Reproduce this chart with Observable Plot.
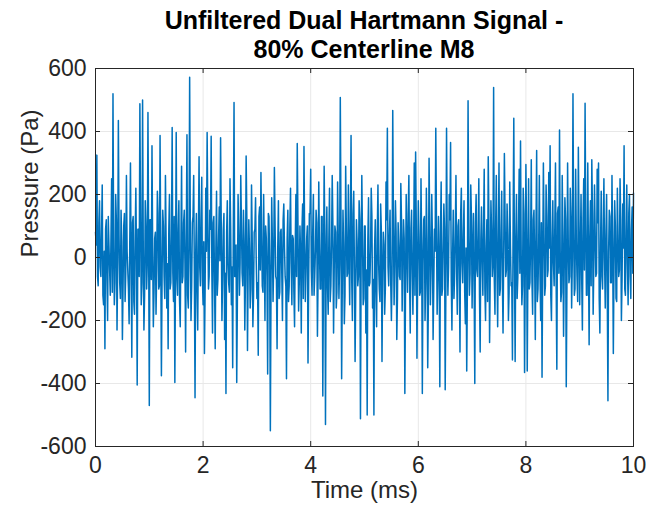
<!DOCTYPE html>
<html>
<head>
<meta charset="utf-8">
<script src="https://cdn.jsdelivr.net/npm/d3@7"></script>
<script src="https://cdn.jsdelivr.net/npm/@observablehq/plot@0.6"></script>
<style>
  body { margin: 0; background: #fff; font-family: "Liberation Sans", Arial, Helvetica, sans-serif; position: relative; }
  #title { position: absolute; left: 0; top: 0; width: 646px; box-sizing: border-box; padding: 6px 13px 0 95px;
           text-align: center; font-weight: bold; font-size: 25px; line-height: 29px; color: #000; z-index: 2; }
  #chart svg { overflow: visible; display: block; }
</style>
</head>
<body>
<div id="chart"></div>
<div id="title">Unfiltered Dual Hartmann Signal -<br>80% Centerline M8</div>
<script>
const titleText = "Unfiltered Dual Hartmann Signal - 80% Centerline M8";
const xLabel = "Time (ms)";
const yLabel = "Pressure (Pa)";
const xTicks = [0, 2, 4, 6, 8, 10];
const yTicks = [-600, -400, -200, 0, 200, 400, 600];
const tStart = 0;
const tStep = 0.025; // ms between main samples

// Main pressure samples (Pa) incl. spikes
const pressure = [
  80, 325, -90, 180, -60, 230, -150, -290, 120, -200, 40, -120, 250, 520, -150, 200, -230, 435, -80, 150,
  -260, 100, -140, 260, -40, -210, 300, -317, 130, -180, 220, -405, 90, 488, -150, 500, -230, 180, -100, 460,
  -470, 120, 355, -220, 60, -180, 210, -100, 387, -375, 150, -60, 260, -160, -290, 200, -80, 413, -140, -397,
  397, -120, 180, -220, 290, -60, 150, -300, 390, -160, 572, -200, 110, 260, -445, 140, -230, 320, -90, 255,
  -150, -305, 220, 397, -100, 150, 385, -240, 130, -290, 210, -70, 160, 380, -200, 90, -260, -432, 180, -80,
  250, -150, -350, 492, -60, -397, 200, -120, 260, -50, 150, -230, 322, -295, 120, -160, 230, -220, 80, 190,
  -130, -310, 160, 270, -90, 200, -200, 60, -370, 130, -550, 190, -140, 286, -60, -290, 180, -110, 90, -200,
  170, -60, -385, 150, -90, 220, -150, 60, -220, 200, 362, -170, 100, -240, 170, 352, -140, 60, -335, 140,
  280, -120, 200, -60, 150, -250, 240, -100, 130, -440, 290, -530, 160, -180, 220, -90, 260, -240, 100, -160,
  240, -130, 508, -385, 150, -210, 290, -60, 230, -150, 387, -200, 210, -330, 120, -90, 180, -512, 260, -150,
  100, -240, -500, 190, -80, 220, -160, -500, 120, -220, 230, -100, 170, -330, 80, -180, 240, 410, -90, 150,
  -200, 467, -150, 180, -260, 110, -60, 235, -170, 120, -432, 200, -110, 260, -240, 150, -180, 300, 335, -320,
  180, -120, 250, -432, 120, -200, 220, -350, 315, -150, 200, -260, 90, 410, -180, 130, -410, 240, -100, 170,
  -420, 410, -120, 200, 365, -230, 150, -60, 260, -180, 120, -300, 220, -80, 180, -210, -360, 498, -120, 230,
  -160, 140, -400, 200, -60, 250, -300, 160, -120, 280, -200, 120, 320, -270, 180, -60, 540, -180, 260, -220,
  300, -100, 210, -240, 330, -60, 170, -200, 240, -90, -325, 442, -330, 200, -60, 280, 370, -150, 220, -365,
  295, -360, 250, -80, 310, -180, 150, -260, 340, -100, 260, -200, -380, 300, -120, 230, -60, 270, 355, -200,
  180, -90, 300, -355, 160, 405, -140, 260, -250, 190, -410, 300, -80, 220, -160, 520, -120, 280, -60, 350,
  -150, 200, -230, 250, 490, -120, 300, -277, 180, 310, -180, 230, -60, 280, 300, -240, 210, -100, 250, -160,
  200, -455, 150, -80, 260, -305, 180, -130, 220, -60, 250, -200, 170, 355, -120, 230, -150, 200, -130, 160,
  205
];

// Dense low-amplitude core samples (Pa) lying between the main samples
const pressureCore = [
  40, -60, 110, -30, 80, -120, 20, 90, -70, 130, -40, 60, -110, 30, -80, 120, -20, 70, -130, 50,
  -90, 140, -50, 20, -100, 60, -30, 110, -140, 70, -10, 90, -60, 130, -80, 40, -120, 100, -20, 60,
  120, -70, 30, -110, 80, -40, 140, -90, 20, -60, 100, -130, 50, -20, 90, -100, 70, -50, 130, -30,
  -60, 90, -140, 40, -80, 110, -20, 60, -120, 30, 80, -90, 130, -50, 10, -110, 70, -30, 120, -70,
  50, -100, 20, 130, -60, 90, -40, 110, -80, 30, -120, 60, -10, 100, -70, 140, -50, 80, -20, -110,
  90, -30, 120, -60, 40, -130, 80, -20, 110, -90, 50, -70, 130, -40, 20, -100, 60, -120, 90, -10,
  -80, 130, -40, 70, -110, 20, 100, -60, 140, -30, -90, 50, -20, 110, -70, 30, -130, 80, -50, 120,
  30, -90, 60, -140, 100, -20, 70, -110, 40, -60, 120, -80, 10, 90, -130, 50, -30, 100, -70, 140,
  -40, 80, -120, 20, 110, -60, 30, -100, 130, -50, 70, -10, -90, 60, -140, 40, 100, -30, 80, -110,
  60, -20, 130, -80, 40, -120, 90, -50, 10, 110, -70, 140, -30, -100, 50, -60, 120, -10, 70, -130,
  100, -40, 60, -90, 20, 130, -70, 30, -110, 80, -20, -140, 90, -50, 40, -100, 120, -30, 70, -80,
  -50, 110, -20, 80, -130, 40, -70, 120, -10, 60, -100, 30, 140, -60, 90, -40, 20, -120, 100, -30,
  70, -110, 40, -20, 130, -80, 50, -140, 100, -30, 60, -90, 20, 110, -60, -10, 80, -120, 30, 90,
  -100, 50, -30, 120, -70, 10, -130, 80, -40, 100, -60, 140, -20, 70, -110, 30, -90, 60, -50, 130,
  20, -80, 110, -40, 70, -120, 60, -10, 90, -100, 30, -140, 120, -50, 80, -20, -70, 100, -30, 50,
  -120, 90, -60, 20, 130, -40, 70, -110, 40, -80, 110, -20, 60, -130, 100, -50, 10, -90, 140, -60,
  80, -30, -100, 50, -70, 120, -10, 90, -140, 40, -60, 110, -20, 70, -90, 130, -40, 30, -120, 60,
  -20, 100, -80, 140, -50, 20, -110, 70, -30, 120, -90, 40, -60, 130, -10, 80, -100, 50, -140, 90,
  30, -70, 120, -40, 100, -120, 10, 60, -90, 140, -20, 80, -50, 110, -130, 40, -60, 90, -10, 70,
  -110, 20, 130, -80, 50, -30, 100, -140, 60, -40, 120, -70, 30, -100, 80, -20, 140, -60, 90, -50
];

const data = [];
pressure.forEach((p, i) => {
  data.push({t: tStart + i * tStep, p});
  if (i < pressureCore.length) data.push({t: tStart + (i + 0.5) * tStep, p: pressureCore[i]});
});

const font = "'Liberation Sans', Arial, Helvetica, sans-serif";
const W = 646, H = 519, mL = 95, mR = 13, mT = 68, mB = 73;
const plotW = W - mL - mR;
const plotH = H - mT - mB;
const tick = 5;

const chart = Plot.plot({
  width: W,
  height: H,
  marginLeft: mL,
  marginRight: mR,
  marginTop: mT,
  marginBottom: mB,
  style: {fontFamily: font, background: "transparent", color: "#262626", overflow: "visible"},
  x: {domain: [0, 10]},
  y: {domain: [-600, 600]},
  marks: [
    Plot.gridX(xTicks, {stroke: "#e8e8e8", strokeOpacity: 1}),
    Plot.gridY(yTicks, {stroke: "#e8e8e8", strokeOpacity: 1}),
    Plot.line(data, {x: "t", y: "p", stroke: "#0072BD", strokeWidth: 1.5}),
    Plot.frame({stroke: "#262626", strokeWidth: 1}),
    Plot.tickX(xTicks, {x: d => d, stroke: "#262626", insetTop: plotH - tick}),
    Plot.tickX(xTicks, {x: d => d, stroke: "#262626", insetBottom: plotH - tick}),
    Plot.tickY(yTicks, {y: d => d, stroke: "#262626", insetRight: plotW - tick}),
    Plot.tickY(yTicks, {y: d => d, stroke: "#262626", insetLeft: plotW - tick}),
    Plot.axisX(xTicks, {tickSize: 0, tickPadding: 10, fontSize: 23, fill: "#262626", label: null, tickFormat: d => String(d)}),
    Plot.axisY(yTicks, {tickSize: 0, tickPadding: 9, fontSize: 23, fill: "#262626", label: null, tickFormat: d => String(d)}),
    Plot.text([xLabel], {text: d => d, frameAnchor: "bottom", dy: 51, fontSize: 24, fill: "#262626"}),
    Plot.text([yLabel], {text: d => d, frameAnchor: "left", dx: -65, rotate: -90, fontSize: 24, fill: "#262626"})
  ]
});
document.getElementById("chart").appendChild(chart);
</script>
</body>
</html>
